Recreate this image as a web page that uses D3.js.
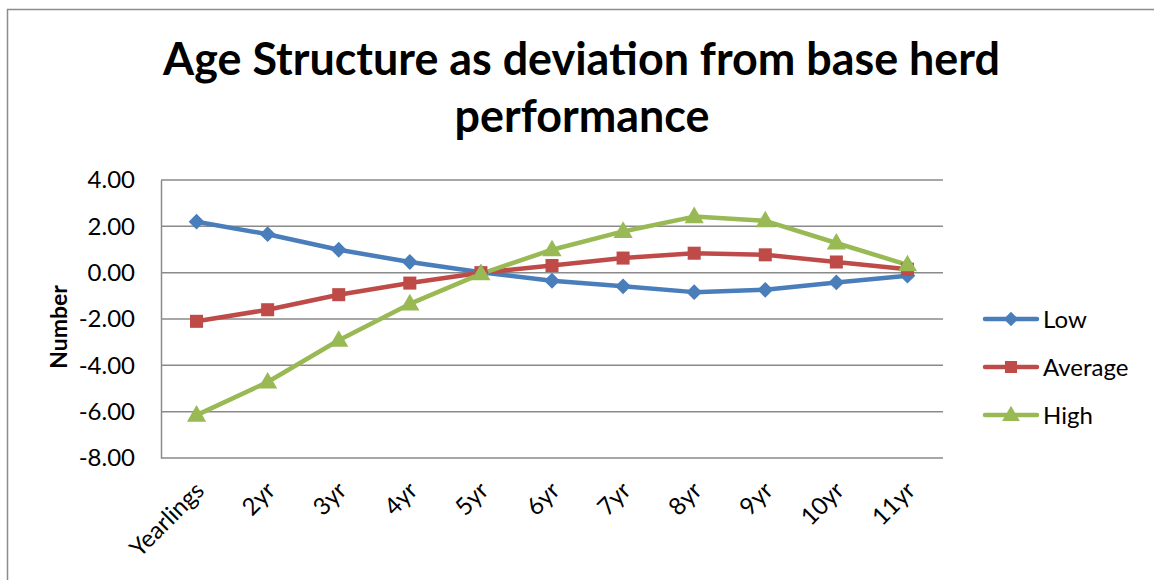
<!DOCTYPE html>
<html><head><meta charset="utf-8">
<script src="https://cdn.jsdelivr.net/npm/d3@7"></script>
<style>
html,body{margin:0;padding:0;background:#fff;}
svg{display:block;font-family:Lato, "Open Sans", sans-serif;}
</style></head>
<body>
<svg id="c" width="1154" height="580"></svg>
<script>
const categories = ["Yearlings","2yr","3yr","4yr","5yr","6yr","7yr","8yr","9yr","10yr","11yr"];
const lowValues     = [2.20, 1.66, 0.99, 0.46, 0.02, -0.35, -0.59, -0.84, -0.74, -0.42, -0.13];
const averageValues = [-2.10, -1.60, -0.95, -0.45, 0.00, 0.31, 0.63, 0.84, 0.77, 0.46, 0.15];
const highValues    = [-6.15, -4.72, -2.92, -1.35, -0.05, 0.99, 1.78, 2.42, 2.24, 1.28, 0.34];
const seriesNames = ["Low","Average","High"];
const yTicks = [4, 2, 0, -2, -4, -6, -8];
const titleLines = ["Age Structure as deviation from base herd", "performance"];
const yAxisTitle = "Number";

const colors = ["#4A7EBB", "#BE4B48", "#98B954"];
const symbols = [d3.symbolSquare, d3.symbolSquare, d3.symbolTriangle];
const symRot = [45, 0, 0];
const symSize = [125, 170, 160];
const series = [lowValues, averageValues, highValues];

const svg = d3.select("#c");
const pLeft = 161, pRight = 943, pTop = 180, pBottom = 458;
const fmt = d => d3.format(".2f")(d).replace("\u2212", "-");

// outer chart border
svg.append("rect").attr("x", 7.5).attr("y", 9.5).attr("width", 1200).attr("height", 620)
  .attr("fill", "none").attr("stroke", "#8c8c8c").attr("stroke-width", 1.5);

const x = d3.scaleBand().domain(categories).range([pLeft, pRight]);
const y = d3.scaleLinear().domain([-8, 4]).range([pBottom, pTop]);

// gridlines
svg.append("g").selectAll("line").data(yTicks).join("line")
  .attr("x1", pLeft).attr("x2", pRight)
  .attr("y1", d => y(d)).attr("y2", d => y(d))
  .attr("stroke", "#8a8a8a").attr("stroke-width", 1.5);

// y axis
const yAxis = svg.append("g").attr("transform", `translate(${pLeft},0)`)
  .call(d3.axisLeft(y).tickValues(yTicks).tickFormat(fmt).tickSize(0).tickPadding(26));
yAxis.select(".domain").attr("stroke", "#8a8a8a").attr("stroke-width", 1.5);
yAxis.selectAll("text").attr("font-size", 24).attr("fill", "#000").attr("font-family", "Lato");

// x axis labels
const xAxis = svg.append("g").attr("transform", `translate(0,${pBottom})`)
  .call(d3.axisBottom(x).tickSize(0).tickFormat(d => d));
xAxis.select(".domain").remove();
xAxis.selectAll("text")
  .attr("font-size", 24).attr("fill", "#000").attr("font-family", "Lato")
  .attr("text-anchor", "end")
  .attr("dy", 0)
  .attr("transform", "translate(7,32) rotate(-45)");

// y axis title
svg.append("text").attr("transform", `translate(67,${(pTop + pBottom) / 2 + 8}) rotate(-90)`)
  .attr("text-anchor", "middle").attr("font-weight", "bold").attr("font-size", 23)
  .text(yAxisTitle);

// title
const t1 = svg.append("text").attr("x", 581.5).attr("y", 75).attr("text-anchor", "middle")
  .attr("font-weight", "bold").attr("font-size", 42).text(titleLines[0]);
const w1 = t1.node().getComputedTextLength();
const fs = 42 * 837 / w1;
t1.attr("font-size", fs);
svg.append("text").attr("x", 582).attr("y", 132).attr("text-anchor", "middle")
  .attr("font-weight", "bold").attr("font-size", fs).text(titleLines[1]);

// lines
const line = d3.line().x((d, i) => x(categories[i]) + x.bandwidth() / 2).y(d => y(d));
series.forEach((vals, si) => {
  svg.append("path").datum(vals).attr("d", line)
    .attr("fill", "none").attr("stroke", colors[si]).attr("stroke-width", 4.5)
    .attr("stroke-linejoin", "round").attr("stroke-linecap", "round");
});
series.forEach((vals, si) => {
  svg.append("g").selectAll("path").data(vals).join("path")
    .attr("d", d3.symbol().type(symbols[si]).size(symSize[si]))
    .attr("transform", (d, i) => `translate(${x(categories[i]) + x.bandwidth() / 2},${y(d) + (si === 2 ? 1 : 0)}) rotate(${symRot[si]})`)
    .attr("fill", colors[si]);
});

// legend
const legY = [319, 367, 415];
seriesNames.forEach((name, si) => {
  const g = svg.append("g").attr("transform", `translate(0,${legY[si]})`);
  g.append("line").attr("x1", 985).attr("x2", 1037).attr("y1", 0).attr("y2", 0)
    .attr("stroke", colors[si]).attr("stroke-width", 4.5).attr("stroke-linecap", "round");
  g.append("path").attr("d", d3.symbol().type(symbols[si]).size(symSize[si] * 0.85))
    .attr("transform", `translate(1011,${si === 2 ? 1 : 0}) rotate(${symRot[si]})`).attr("fill", colors[si]);
  g.append("text").attr("x", 1043).attr("y", 9).attr("font-size", 24).text(name);
});
</script>
</body></html>
